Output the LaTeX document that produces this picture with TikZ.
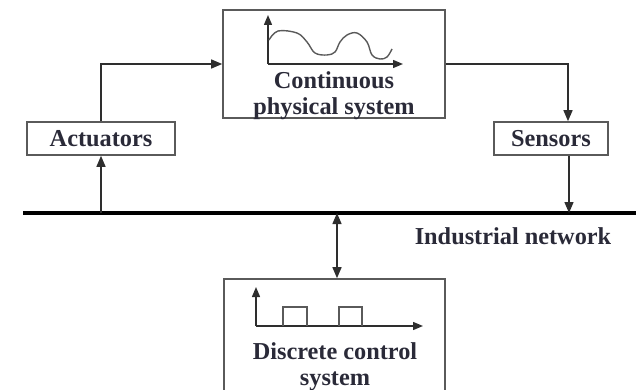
\documentclass[tikz,border=0pt]{standalone}
\usepackage{fontspec}
\setmainfont{Liberation Serif}
\usetikzlibrary{arrows.meta}
\definecolor{boxgray}{HTML}{5A5A5A}
\definecolor{linegray}{HTML}{2E2E2E}
\definecolor{txt}{HTML}{2A2A38}
\tikzset{
  blk/.style={draw=boxgray, line width=1.6pt, fill=none, inner sep=0pt},
  lbl/.style={text=txt, font=\fontsize{24.3}{26}\selectfont\bfseries, align=center},
  conn/.style={draw=linegray, line width=1.4pt, -{Triangle[length=11pt,width=9pt]}},
  axis/.style={draw=linegray, line width=1.4pt, -{Triangle[length=10pt,width=8pt]}},
  sig/.style={draw=boxgray, line width=1.4pt}
}
\begin{document}
\begin{tikzpicture}[x=1pt,y=1pt]
\useasboundingbox (0,0) rectangle (636,-390);
\clip (0,0) rectangle (636,-390);
% blocks
\node[blk, minimum width=222pt, minimum height=108pt] (cps) at (334,-64) {};
\node[blk, minimum width=148pt, minimum height=33pt] (act) at (101,-138.5) {};
\node[blk, minimum width=114pt, minimum height=33pt] (sen) at (551,-138.5) {};
\node[blk, minimum width=221pt, minimum height=150pt] (dcs) at (334.5,-354) {};
% labels
\node[lbl] (actl) at (act.center) {Actuators};
\node[lbl] (senl) at (sen.center) {Sensors};
\node[lbl] (cpsl) at (334,-96) {Continuous\\physical system};
\node[lbl] (dcsl) at (335,-367) {Discrete control\\system};
\node[lbl] (netl) at (513,-236) {Industrial network};
% network bar
\coordinate (netL) at (23,-213);
\coordinate (netR) at (640,-213);
\draw[line width=4.5pt, black] (netL) -- (netR);
% connectors
\draw[conn] (act.north) |- (cps.west);
\draw[conn] (cps.east) -| ([xshift=17pt]sen.north);
\draw[conn] (act.south |- netL) -- (act.south);
\draw[conn] ([xshift=18pt]sen.south) -- ([xshift=18pt]sen.south |- netL);
\draw[draw=linegray, line width=1.4pt, {Triangle[length=11pt,width=9pt]}-{Triangle[length=11pt,width=9pt]}] ([xshift=2.5pt]dcs.north |- netL) -- ([xshift=2.5pt]dcs.north);
% continuous signal icon
\coordinate (co) at (268,-64);
\draw[axis] (co) -- (268,-15);
\draw[axis] (co) -- (403,-64);
\draw[sig] plot[smooth, tension=0.6] coordinates {(269,-40) (278,-31) (297,-33) (307,-42) (315,-53) (327,-55) (335,-52) (340,-42) (347,-35) (357,-33) (367,-42) (372,-55) (380,-59) (387,-57) (392,-49)};
% discrete signal icon
\coordinate (do) at (256,-326);
\draw[axis] (do) -- (256,-287);
\draw[axis] (do) -- (423,-326);
\draw[sig] (283,-326) -- (283,-307) -- (307,-307) -- (307,-326);
\draw[sig] (339,-326) -- (339,-307) -- (362,-307) -- (362,-326);
\end{tikzpicture}
\end{document}
